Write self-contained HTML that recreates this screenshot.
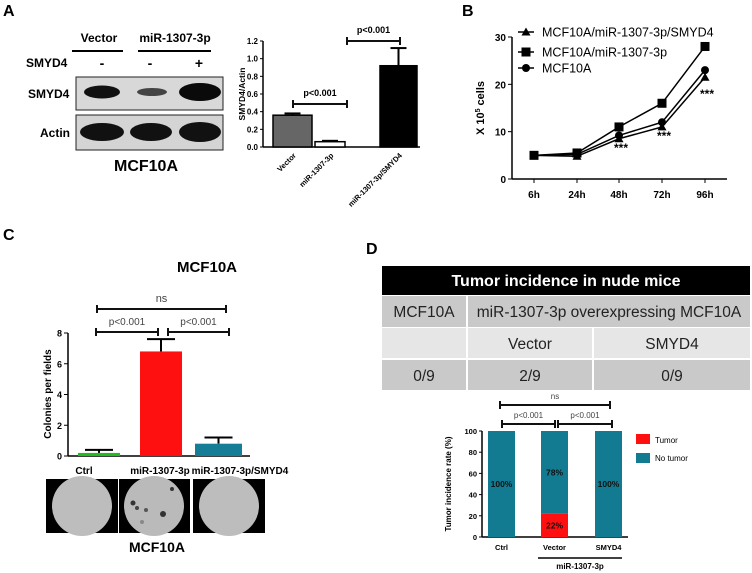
<!DOCTYPE html>
<html><head><meta charset="utf-8"><style>
html,body{margin:0;padding:0;background:#fff}
svg{display:block;font-family:"Liberation Sans",sans-serif}
</style></head><body>
<svg id="fig" width="752" height="573" viewBox="0 0 752 573" xmlns="http://www.w3.org/2000/svg">
<text x="3" y="16" font-size="16" font-weight="bold">A</text>
<text x="462" y="16" font-size="16" font-weight="bold">B</text>
<text x="3" y="240" font-size="16" font-weight="bold">C</text>
<text x="366" y="254" font-size="16" font-weight="bold">D</text>

<g font-weight="bold" font-size="12">
<text x="99" y="42" text-anchor="middle">Vector</text>
<line x1="72" y1="51" x2="123" y2="51" stroke="#000" stroke-width="2"/>
<text x="175" y="42" text-anchor="middle">miR-1307-3p</text>
<line x1="138" y1="51" x2="211" y2="51" stroke="#000" stroke-width="2"/>
<text x="26" y="67">SMYD4</text>
<text x="102" y="68" text-anchor="middle" font-size="14">-</text>
<text x="150" y="68" text-anchor="middle" font-size="14">-</text>
<text x="199" y="68" text-anchor="middle" font-size="14">+</text>
<text x="28" y="98">SMYD4</text>
<text x="40" y="137">Actin</text>
<rect x="76" y="77" width="147" height="33" fill="#d8d8d8" stroke="#222"/>
<ellipse cx="102" cy="92" rx="18" ry="6.5" fill="#111"/>
<ellipse cx="152" cy="92" rx="15" ry="4" fill="#444"/>
<ellipse cx="200" cy="92" rx="21" ry="9" fill="#0a0a0a"/>
<rect x="76" y="115" width="147" height="35" fill="#d4d4d4" stroke="#222"/>
<ellipse cx="102" cy="132" rx="22" ry="9" fill="#111"/>
<ellipse cx="151" cy="132" rx="21" ry="9" fill="#111"/>
<ellipse cx="200" cy="132" rx="21" ry="10" fill="#111"/>
<text x="146" y="171" text-anchor="middle" font-size="16">MCF10A</text>
</g>
<g id="chartA"></g>
<g id="chartB"></g>
<g id="chartC"></g>

<g>
<rect x="46" y="479" width="72" height="54" fill="#000"/><circle cx="82" cy="506" r="30" fill="#bdbdbd"/>
<rect x="119" y="479" width="71" height="54" fill="#000"/><circle cx="154" cy="506" r="30" fill="#bababa"/>
<circle cx="133" cy="503" r="2.5" fill="#333"/><circle cx="137" cy="508" r="2" fill="#444"/><circle cx="146" cy="510" r="2" fill="#555"/><circle cx="163" cy="514" r="3" fill="#333"/><circle cx="172" cy="489" r="2" fill="#333"/><circle cx="142" cy="522" r="2" fill="#888"/>
<rect x="193" y="479" width="72" height="54" fill="#000"/><circle cx="229" cy="506" r="30" fill="#bdbdbd"/>
<text x="157" y="552" text-anchor="middle" font-size="14" font-weight="bold">MCF10A</text>
</g>

<g font-size="15.5" fill="#222">
<rect x="382" y="266" width="368" height="29" fill="#000"/>
<text x="566" y="286" text-anchor="middle" fill="#fff" font-weight="bold" font-size="16">Tumor incidence in nude mice</text>
<rect x="382" y="296" width="84" height="31" fill="#c9c9c9"/>
<rect x="468" y="296" width="282" height="31" fill="#c9c9c9"/>
<rect x="382" y="328" width="84" height="30" fill="#e6e6e6"/>
<rect x="468" y="328" width="124" height="30" fill="#e6e6e6"/>
<rect x="594" y="328" width="156" height="30" fill="#e6e6e6"/>
<rect x="382" y="360" width="84" height="30" fill="#c9c9c9"/>
<rect x="468" y="360" width="124" height="30" fill="#c9c9c9"/>
<rect x="594" y="360" width="156" height="30" fill="#c9c9c9"/>
<text x="424" y="317" text-anchor="middle">MCF10A</text>
<text x="609" y="317" text-anchor="middle">miR-1307-3p overexpressing MCF10A</text>
<text x="530" y="349" text-anchor="middle">Vector</text>
<text x="672" y="349" text-anchor="middle">SMYD4</text>
<text x="424" y="381" text-anchor="middle">0/9</text>
<text x="530" y="381" text-anchor="middle">2/9</text>
<text x="672" y="381" text-anchor="middle">0/9</text>
</g>
<g id="chartD"></g>
</svg>
<script>
const NS="http://www.w3.org/2000/svg";
function mk(p,t,a,txt){const e=document.createElementNS(NS,t);for(const k in a)e.setAttribute(k,a[k]);if(txt!==undefined)e.textContent=txt;p.appendChild(e);return e;}

const aCategories=["Vector","miR-1307-3p","miR-1307-3p/SMYD4"];
const aValues=[0.36,0.06,0.92];
const aErrors=[0.02,0.01,0.2];
const aTicks=[0,0.2,0.4,0.6,0.8,1.0,1.2];
const bTimes=["6h","24h","48h","72h","96h"];
const bSmyd4=[5,4.8,8.5,11,21.5];
const bMir=[5,5.5,11,16,28];
const bCtrl=[5,5.2,9.2,12,23];
const bTicks=[0,10,20,30];
const cCategories=["Ctrl","miR-1307-3p","miR-1307-3p/SMYD4"];
const cValues=[0.2,6.8,0.8];
const cErrors=[0.2,0.8,0.4];
const cTicks=[0,2,4,6,8];
const dCategories=["Ctrl","Vector","SMYD4"];
const dTumor=[0,22,0];
const dNoTumor=[100,78,100];
const dTicks=[0,20,40,60,80,100];

function sig(g,x1,x2,y,label,ty,fs,bold){
  mk(g,"line",{x1,y1:y,x2,y2:y,stroke:"#111","stroke-width":2});
  mk(g,"line",{x1,y1:y-4,x2:x1,y2:y+4,stroke:"#111","stroke-width":2});
  mk(g,"line",{x1:x2,y1:y-4,x2:x2,y2:y+4,stroke:"#111","stroke-width":2});
  mk(g,"text",{x:(x1+x2)/2,y:ty,"text-anchor":"middle","font-size":fs,fill:bold?"#000":"#444","font-weight":bold?"bold":"normal"},label);
}

(function(){
  const g=document.getElementById("chartA");
  const y=v=>147-v*(106/1.2);
  const bx=[[273,312],[315,345],[380,417]];
  const fills=["#666","#fff","#000"];
  mk(g,"line",{x1:263,y1:y(0),x2:420,y2:y(0),stroke:"#000","stroke-width":1.5});
  mk(g,"line",{x1:263,y1:y(0),x2:263,y2:y(1.2),stroke:"#000","stroke-width":1.5});
  aTicks.forEach(t=>{mk(g,"line",{x1:260,y1:y(t),x2:263,y2:y(t),stroke:"#000"});
    mk(g,"text",{x:258,y:y(t)+3,"text-anchor":"end","font-size":8,"font-weight":"bold"},t.toFixed(1));});
  mk(g,"text",{x:245,y:94,"text-anchor":"middle","font-size":8.5,"font-weight":"bold",transform:"rotate(-90 245 94)"},"SMYD4/Actin");
  aValues.forEach((v,i)=>{
    const r=mk(g,"rect",{x:bx[i][0],y:y(v),width:bx[i][1]-bx[i][0],height:y(0)-y(v),fill:fills[i],stroke:"#000","stroke-width":1.5});
    
    
    const cx=(bx[i][0]+bx[i][1])/2;
    mk(g,"line",{x1:cx,y1:y(v),x2:cx,y2:y(v+aErrors[i]),stroke:"#000","stroke-width":2});
    mk(g,"line",{x1:cx-8,y1:y(v+aErrors[i]),x2:cx+8,y2:y(v+aErrors[i]),stroke:"#000","stroke-width":2});
    mk(g,"text",{x:cx+4,y:156,"text-anchor":"end","font-size":7.5,"font-weight":"bold",transform:`rotate(-45 ${cx+4} 156)`},aCategories[i]);
  });
  sig(g,293,347,104,"p<0.001",96,9,true);
  sig(g,347,400,41,"p<0.001",33,9,true);
})();

(function(){
  const g=document.getElementById("chartB");
  const xs=[534,577,619,662,705];
  const y=v=>179-v*(142/30);
  mk(g,"line",{x1:512,y1:179,x2:727,y2:179,stroke:"#000","stroke-width":1.5});
  mk(g,"line",{x1:512,y1:179,x2:512,y2:y(30),stroke:"#000","stroke-width":1.5});
  bTicks.forEach(t=>{mk(g,"line",{x1:508,y1:y(t),x2:512,y2:y(t),stroke:"#000"});
    mk(g,"text",{x:506,y:y(t)+4,"text-anchor":"end","font-size":10,"font-weight":"bold"},t);});
  bTimes.forEach((l,i)=>{mk(g,"line",{x1:xs[i],y1:179,x2:xs[i],y2:183,stroke:"#000"});
    mk(g,"text",{x:xs[i],y:198,"text-anchor":"middle","font-size":10,"font-weight":"bold"},l);});
  const tt=mk(g,"text",{x:484,y:108,"text-anchor":"middle","font-size":11,"font-weight":"bold",transform:"rotate(-90 484 108)"},"X 10");
  mk(tt,"tspan",{dy:-4,"font-size":7},"5");
  mk(tt,"tspan",{dy:4}," cells");
  const series=[[bSmyd4,"tri"],[bMir,"sq"],[bCtrl,"ci"]];
  function marker(x,yy,k){
    if(k==="sq")return mk(g,"rect",{x:x-4.5,y:yy-4.5,width:9,height:9,fill:"#000"});
    if(k==="ci")return mk(g,"circle",{cx:x,cy:yy,r:4,fill:"#000"});
    return mk(g,"path",{d:`M${x},${yy-4.5}L${x+4.5},${yy+3.5}L${x-4.5},${yy+3.5}Z`,fill:"#000"});
  }
  series.forEach(([d,k])=>{
    const pl=mk(g,"polyline",{points:d.map((v,i)=>xs[i]+","+y(v)).join(" "),fill:"none",stroke:"#000","stroke-width":1.5});
    
    
    d.forEach((v,i)=>marker(xs[i],y(v),k));
  });
  [[619,152],[662,140],[705,98]].forEach(p=>mk(g,"text",{x:p[0]+2,y:p[1],"text-anchor":"middle","font-size":12,"font-weight":"bold"},"***"));
  const leg=[["MCF10A/miR-1307-3p/SMYD4","tri",32],["MCF10A/miR-1307-3p","sq",52],["MCF10A","ci",68]];
  leg.forEach(([t,k,yy])=>{mk(g,"line",{x1:518,y1:yy,x2:534,y2:yy,stroke:"#000","stroke-width":1.5});marker(526,yy,k);
    const e=mk(g,"text",{x:542,y:yy+4.5,"font-size":12.5},t);
    
    });
})();

(function(){
  const g=document.getElementById("chartC");
  const y=v=>456-v*(123/8);
  const bx=[[78,120],[140,182],[195,242]];
  const fills=["#22bb22","#ff1010","#157e96"];
  mk(g,"text",{x:207,y:272,"text-anchor":"middle","font-size":15,"font-weight":"bold"},"MCF10A");
  mk(g,"line",{x1:68,y1:456,x2:250,y2:456,stroke:"#000","stroke-width":1.5});
  mk(g,"line",{x1:68,y1:456,x2:68,y2:y(8),stroke:"#000","stroke-width":1.5});
  cTicks.forEach(t=>{mk(g,"line",{x1:64,y1:y(t),x2:68,y2:y(t),stroke:"#000"});
    mk(g,"text",{x:62,y:y(t)+3.5,"text-anchor":"end","font-size":9,"font-weight":"bold"},t);});
  mk(g,"text",{x:51,y:394,"text-anchor":"middle","font-size":10,"font-weight":"bold",transform:"rotate(-90 51 394)"},"Colonies per fields");
  cValues.forEach((v,i)=>{
    const cx=(bx[i][0]+bx[i][1])/2, e=y(v+cErrors[i]);
    mk(g,"line",{x1:cx,y1:y(v),x2:cx,y2:e,stroke:"#000","stroke-width":2});
    mk(g,"line",{x1:cx-14,y1:e,x2:cx+14,y2:e,stroke:"#000","stroke-width":2});
    const r=mk(g,"rect",{x:bx[i][0],y:y(v),width:bx[i][1]-bx[i][0],height:456-y(v),fill:fills[i]});
    
    
  });
  sig(g,97,226,309,"ns",302,11);
  sig(g,96,158,332,"p<0.001",325,10);
  sig(g,168,229,332,"p<0.001",325,10);
  const lx=[84,160,240];
  cCategories.forEach((c,i)=>mk(g,"text",{x:lx[i],y:474,"text-anchor":"middle","font-size":10,"font-weight":"bold"},c));
})();

(function(){
  const g=document.getElementById("chartD");
  const y=v=>537-v*(106/100);
  const bx=[488,541,595], w=27;
  mk(g,"line",{x1:482,y1:537,x2:628,y2:537,stroke:"#000","stroke-width":1.5});
  mk(g,"line",{x1:482,y1:537,x2:482,y2:y(100),stroke:"#000","stroke-width":1.5});
  dTicks.forEach(t=>{mk(g,"line",{x1:479,y1:y(t),x2:482,y2:y(t),stroke:"#000"});
    mk(g,"text",{x:477,y:y(t)+3,"text-anchor":"end","font-size":7.5,"font-weight":"bold"},t);});
  mk(g,"text",{x:451,y:484,"text-anchor":"middle","font-size":8,"font-weight":"bold",transform:"rotate(-90 451 484)"},"Tumor incidence rate (%)");
  dCategories.forEach((c,i)=>{
    const r1=mk(g,"rect",{x:bx[i],y:y(dTumor[i]+dNoTumor[i]),width:w,height:y(dTumor[i])-y(dTumor[i]+dNoTumor[i]),fill:"#127b92"});
    
    
    mk(g,"text",{x:bx[i]+w/2,y:y(dTumor[i]+dNoTumor[i]/2)+3,"text-anchor":"middle","font-size":8.5,"font-weight":"bold","fill":"#111"},dNoTumor[i]+"%");
    if(dTumor[i]>0){
      const r2=mk(g,"rect",{x:bx[i],y:y(dTumor[i]),width:w,height:537-y(dTumor[i]),fill:"#ff1010"});
      
      
      mk(g,"text",{x:bx[i]+w/2,y:y(dTumor[i]/2)+3,"text-anchor":"middle","font-size":8.5,"font-weight":"bold","fill":"#111"},dTumor[i]+"%");
    }
    mk(g,"text",{x:bx[i]+w/2,y:550,"text-anchor":"middle","font-size":7.5,"font-weight":"bold"},c);
  });
  mk(g,"line",{x1:538,y1:558,x2:622,y2:558,stroke:"#000","stroke-width":1.5});
  mk(g,"text",{x:580,y:569,"text-anchor":"middle","font-size":8,"font-weight":"bold"},"miR-1307-3p");
  sig(g,500,610,405,"ns",399,8);
  sig(g,502,555,424,"p<0.001",418,8);
  sig(g,558,612,424,"p<0.001",418,8);
  mk(g,"rect",{x:636,y:434,width:14,height:10,fill:"#ff1010"});
  mk(g,"text",{x:655,y:443,"font-size":8},"Tumor");
  mk(g,"rect",{x:636,y:453,width:14,height:10,fill:"#127b92"});
  mk(g,"text",{x:655,y:461,"font-size":8},"No tumor");
})();
</script>
</body></html>
